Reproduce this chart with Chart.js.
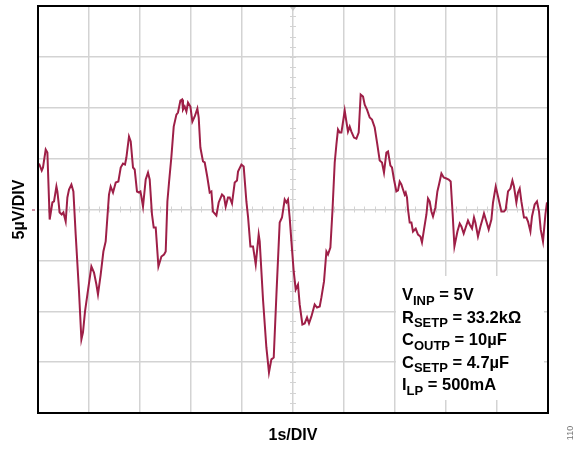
<!DOCTYPE html>
<html>
<head>
<meta charset="utf-8">
<script src="https://cdn.jsdelivr.net/npm/chart.js@4.4.1/dist/chart.umd.min.js"></script>
<style>
html,body{margin:0;padding:0;background:#fff;}
#wrap{position:relative;width:587px;height:451px;}
</style>
</head>
<body>
<div id="wrap"><canvas id="c" width="587" height="451"></canvas></div>
<script>
// time in seconds (1 s/DIV, 10 divisions)
const timeS = [0.020,0.073,0.098,0.151,0.184,0.229,0.282,0.314,0.361,0.380,0.425,0.465,0.498,0.543,0.576,0.608,0.655,0.694,0.739,0.804,
0.851,0.882,0.922,0.969,1.047,1.098,1.145,1.176,1.229,1.282,1.327,1.392,1.425,1.471,1.524,1.576,1.622,1.667,1.706,1.733,
1.784,1.818,1.863,1.896,1.941,1.980,2.008,2.027,2.059,2.112,2.157,2.190,2.235,2.269,2.308,2.361,2.420,2.471,2.504,2.537,
2.569,2.616,2.661,2.714,2.745,2.792,2.824,2.843,2.876,2.910,2.941,2.988,3.027,3.073,3.125,3.151,3.184,3.235,3.269,3.318,
3.367,3.400,3.431,3.498,3.543,3.608,3.647,3.680,3.725,3.759,3.804,3.857,3.902,3.922,3.988,4.033,4.086,4.118,4.165,4.216,
4.269,4.327,4.347,4.412,4.478,4.529,4.576,4.622,4.675,4.739,4.784,4.837,4.871,4.902,4.935,4.969,5.014,5.053,5.098,5.131,
5.184,5.229,5.275,5.314,5.361,5.425,5.471,5.524,5.557,5.608,5.655,5.686,5.733,5.773,5.818,5.851,5.882,5.916,5.949,5.994,
6.014,6.047,6.078,6.112,6.145,6.196,6.243,6.288,6.327,6.373,6.406,6.451,6.504,6.549,6.602,6.651,6.700,6.745,6.784,6.831,
6.863,6.910,6.941,6.980,7.027,7.059,7.092,7.125,7.157,7.190,7.210,7.235,7.255,7.288,7.322,7.353,7.406,7.451,7.498,7.529,
7.569,7.616,7.647,7.680,7.714,7.745,7.792,7.831,7.863,7.910,7.955,8.008,8.053,8.092,8.131,8.165,8.224,8.269,8.302,8.347,
8.386,8.431,8.465,8.510,8.549,8.576,8.627,8.675,8.714,8.745,8.792,8.837,8.890,8.922,8.975,9.020,9.086,9.137,9.171,9.216,
9.263,9.302,9.333,9.380,9.412,9.445,9.478,9.529,9.576,9.608,9.655,9.686,9.739,9.784,9.824,9.857,9.902,9.949,9.980];
// noise voltage in µV (5 µV/DIV)
const noiseUV = [4.52,3.83,4.13,5.89,5.60,-0.98,0.69,0.79,2.26,1.77,-0.29,-0.49,-0.29,-1.18,1.18,1.96,2.46,1.77,-2.46,-8.06,
-12.77,-12.08,-10.02,-8.35,-5.60,-6.19,-7.37,-8.35,-6.39,-4.13,-3.14,1.47,2.26,1.67,2.65,2.75,4.13,4.52,4.42,5.11,
7.17,6.68,4.13,3.93,1.77,1.67,1.77,1.28,0.29,2.95,3.63,2.95,-0.49,-1.77,-1.77,-5.60,-4.62,-4.42,-4.13,0.79,
2.65,5.21,8.15,9.33,9.53,10.71,10.81,9.82,10.12,9.63,10.51,10.12,8.64,9.14,9.92,9.04,6.09,4.72,4.62,3.24,
1.67,1.77,-0.20,-0.59,0.69,1.47,1.28,0.29,1.18,1.18,0.59,2.65,2.85,3.73,4.42,4.22,0.79,-0.69,-3.63,-3.63,
-5.40,-2.46,-3.14,-8.84,-13.56,-16.01,-14.73,-14.54,-8.35,-1.28,-0.79,0.98,0.69,0.98,-0.79,-3.14,-6.09,-7.86,-7.37,-9.33,
-11.30,-11.20,-10.61,-11.20,-10.51,-9.33,-9.63,-9.53,-8.64,-7.07,-4.13,-4.42,-3.73,-0.20,4.62,6.39,7.86,7.56,7.56,9.04,
9.73,8.64,7.66,8.15,7.66,7.07,6.97,7.56,11.30,11.10,10.31,9.82,9.04,8.84,8.06,6.48,4.81,4.62,3.63,5.60,
5.70,4.32,4.13,2.95,1.77,1.87,2.75,2.46,1.96,1.47,1.67,1.18,0.00,-1.28,-1.28,-2.16,-1.87,-2.46,-2.65,-3.24,
-1.96,-0.49,1.08,0.79,-0.20,-0.69,0.20,1.77,2.46,3.54,3.14,3.05,2.95,2.75,-0.49,-3.63,-2.16,-1.38,-1.67,-2.36,
-1.77,-1.08,-1.47,-1.87,-0.79,-1.28,-2.65,-1.67,-0.98,-0.39,-1.18,-1.96,-0.98,0.69,2.26,1.28,-0.20,-0.20,0.00,1.77,
2.06,2.85,2.26,0.69,1.67,2.06,0.79,-0.79,-0.79,-1.18,-2.16,-0.69,0.49,0.79,-0.20,-1.96,-3.14,-0.49,0.69];

const xTitle = "1s/DIV";
const yTitle = "5µV/DIV";
const conditions = [
  ["V","INP"," = 5V"],
  ["R","SETP"," = 33.2kΩ"],
  ["C","OUTP"," = 10µF"],
  ["C","SETP"," = 4.7µF"],
  ["I","LP"," = 500mA"]
];
const figId = "110";

const points = timeS.map((t,i)=>({x:t,y:noiseUV[i]}));
const GRID = '#d3d3d3';
const FONT = '"Liberation Sans", Arial, sans-serif';

const deco = {
  id:'deco',
  beforeDatasetsDraw(chart){
    const ctx = chart.ctx, a = chart.chartArea;
    const xs = chart.scales.x, ys = chart.scales.y;
    const cx = xs.getPixelForValue(5), cy = ys.getPixelForValue(0);
    ctx.save();
    // white legend box hiding the grid
    ctx.fillStyle = '#fff';
    ctx.fillRect(396, 276, 148, 124);
    // minor ticks on centre lines
    ctx.strokeStyle = GRID; ctx.lineWidth = 1;
    ctx.beginPath();
    for (let v = 0; v <= 10.001; v += 0.2) {
      const px = Math.round(xs.getPixelForValue(v)) + 0.5;
      ctx.moveTo(px, cy - 3); ctx.lineTo(px, cy + 3);
    }
    for (let v = -20; v <= 20.001; v += 1) {
      const py = Math.round(ys.getPixelForValue(v)) + 0.5;
      ctx.moveTo(cx - 3, py); ctx.lineTo(cx + 3, py);
    }
    ctx.stroke();
    // trigger marker at top
    ctx.fillStyle = '#c8c8c8';
    ctx.beginPath(); ctx.moveTo(cx-3, a.top+1); ctx.lineTo(cx+3, a.top+1); ctx.lineTo(cx, a.top+5); ctx.closePath(); ctx.fill();
    // ground marker on left
    ctx.strokeStyle = '#a0204a'; ctx.lineWidth = 1;
    ctx.beginPath(); ctx.moveTo(a.left-6, cy+0.5); ctx.lineTo(a.left-3, cy+0.5); ctx.stroke();
    ctx.restore();
  },
  afterDraw(chart){
    const ctx = chart.ctx, a = chart.chartArea;
    ctx.save();
    ctx.strokeStyle = '#000'; ctx.lineWidth = 2;
    ctx.strokeRect(a.left, a.top, a.right - a.left, a.bottom - a.top);
    ctx.fillStyle = '#000';
    ctx.font = 'bold 16px ' + FONT;
    ctx.textAlign = 'center'; ctx.textBaseline = 'middle';
    ctx.fillText(xTitle, (a.left + a.right)/2, 436);
    ctx.save();
    ctx.translate(20, (a.top + a.bottom)/2);
    ctx.rotate(-Math.PI/2);
    ctx.fillText(yTitle, 0, 0);
    ctx.restore();
    // conditions
    ctx.textAlign = 'left'; ctx.textBaseline = 'alphabetic';
    let y = 300;
    conditions.forEach(c => {
      let x = 402;
      ctx.font = 'bold 16.5px ' + FONT;
      ctx.fillText(c[0], x, y); x += ctx.measureText(c[0]).width;
      ctx.font = 'bold 13px ' + FONT;
      ctx.fillText(c[1], x, y + 4.5); x += ctx.measureText(c[1]).width;
      ctx.font = 'bold 16.5px ' + FONT;
      ctx.fillText(c[2], x, y);
      y += 22.5;
    });
    // figure number
    ctx.fillStyle = '#777';
    ctx.font = '9px ' + FONT;
    ctx.translate(571, 433);
    ctx.rotate(-Math.PI/2);
    ctx.textAlign = 'center'; ctx.textBaseline = 'middle';
    ctx.fillText(figId, 0, 0);
    ctx.restore();
  }
};

new Chart(document.getElementById('c'), {
  type: 'line',
  data: { datasets: [{
    data: points,
    borderColor: '#9e1f47',
    borderWidth: 2,
    pointRadius: 0,
    tension: 0,
    fill: false
  }]},
  options: {
    responsive: false,
    animation: false,
    events: [],
    layout: { padding: { left: 38, top: 6, right: 39, bottom: 38 } },
    plugins: { legend: { display: false }, tooltip: { enabled: false } },
    scales: {
      x: { type: 'linear', min: 0, max: 10,
        ticks: { display: false, stepSize: 1 },
        grid: { color: GRID, lineWidth: 1.5, drawTicks: false },
        border: { display: false } },
      y: { type: 'linear', min: -20, max: 20,
        ticks: { display: false, stepSize: 5 },
        grid: { color: GRID, lineWidth: 1.5, drawTicks: false },
        border: { display: false } }
    }
  },
  plugins: [deco]
});
</script>
</body>
</html>
